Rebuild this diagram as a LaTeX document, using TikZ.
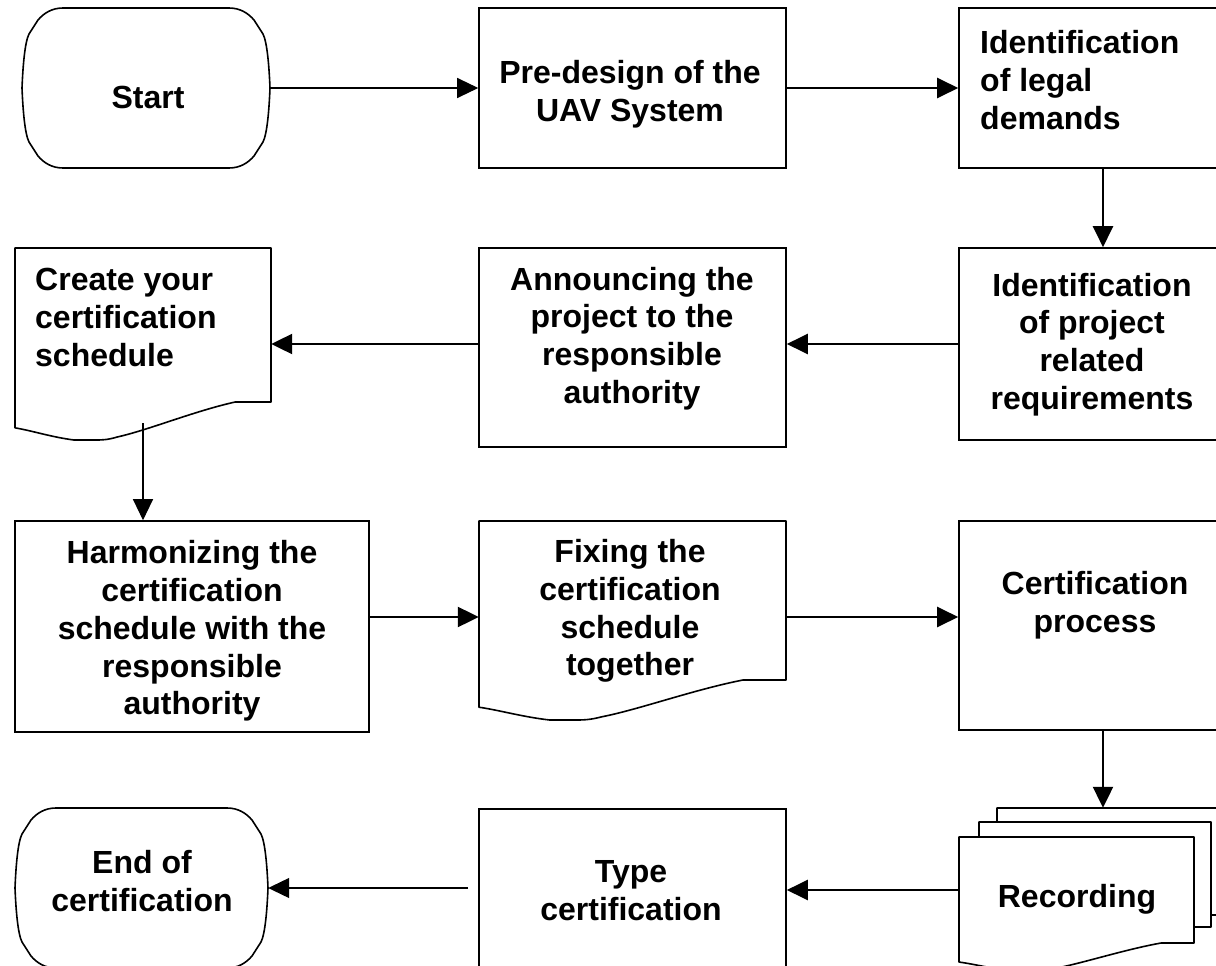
\documentclass[tikz,border=0pt]{standalone}
\usepackage{fontspec}
\setmainfont{Liberation Sans}
\usetikzlibrary{arrows.meta}
\tikzset{
  box/.style={draw, line width=1.6pt, inner sep=0pt},
  region/.style={draw=none, inner sep=0pt},
  txt/.style={font=\bfseries\fontsize{32}{37.75}\selectfont, align=center, inner sep=0pt},
  outl/.style={line width=1.6pt, line join=round},
  arr/.style={line width=2.2pt, -{Triangle[length=21pt,width=20pt]}},
  arrthin/.style={line width=1.2pt, -{Triangle[length=21pt,width=20pt]}},
}
% terminator outline: x, y (top-left), width ; height 160
\newcommand\termshape[3]{%
  \begin{scope}[shift={(#1,#2)}]
    \draw[outl] (41,0) -- ({#3-41},0)
      .. controls ({#3-30},0) and ({#3-22},5) .. ({#3-16},12)
      -- ({#3-7},26)
      .. controls ({#3-3},34) and ({#3-1},56) .. ({#3},80)
      .. controls ({#3-1},104) and ({#3-3},126) .. ({#3-7},134)
      -- ({#3-16},148)
      .. controls ({#3-22},155) and ({#3-30},160) .. ({#3-41},160)
      -- (41,160)
      .. controls (30,160) and (22,155) .. (16,148)
      -- (7,134)
      .. controls (3,126) and (1,104) .. (0,80)
      .. controls (1,56) and (3,34) .. (7,26)
      -- (16,12)
      .. controls (22,5) and (30,0) .. (41,0) -- cycle;
  \end{scope}}
% document outline: x, y (top-left), width, right-side height, wave amplitude
\newcommand\docshape[5]{%
  \begin{scope}[shift={(#1,#2)}]
    \draw[outl, fill=white] (0,0) -- (#3,0) -- (#3,#4) -- ({0.86*#3},#4)
      .. controls ({0.7*#3},{#4+0.24*#5}) and ({0.52*#3},{#4+0.74*#5}) .. ({0.4*#3},{#4+0.92*#5})
      .. controls ({0.36*#3},{#4+#5}) and ({0.34*#3},{#4+#5}) .. ({0.31*#3},{#4+#5})
      -- ({0.23*#3},{#4+#5})
      .. controls ({0.14*#3},{#4+0.92*#5}) and ({0.07*#3},{#4+0.76*#5}) .. (0,{#4+0.68*#5})
      -- cycle;
  \end{scope}}
\begin{document}
\begin{tikzpicture}[x=1pt,y=-1pt]
\useasboundingbox (0,0) rectangle (1216,966);
\clip (0,0) rectangle (1216,966);
\fill[white] (0,0) rectangle (1216,966);

% shapes
\node[region, minimum width=248pt, minimum height=160pt] (start) at (146,88) {};
\node[box, minimum width=307pt, minimum height=160pt] (pre) at (632.5,88) {};
\node[box, minimum width=288pt, minimum height=160pt] (legal) at (1103,88) {};
\node[box, minimum width=288pt, minimum height=192pt] (req) at (1103,344) {};
\node[box, minimum width=307pt, minimum height=199pt] (ann) at (632.5,347.5) {};
\node[region, minimum width=256pt, minimum height=154pt] (create) at (143,325) {};
\node[box, minimum width=354pt, minimum height=211pt] (harm) at (192,626.5) {};
\node[region, minimum width=307pt, minimum height=159pt] (fix) at (632.5,600.5) {};
\node[box, minimum width=288pt, minimum height=209pt] (cert) at (1103,625.5) {};
\node[region, minimum width=233pt, minimum height=107pt] (recback) at (1113.5,861.5) {};
\node[region, minimum width=235pt, minimum height=106pt] (rec) at (1076.5,890) {};
\node[box, minimum width=307pt, minimum height=162pt] (type) at (632.5,890) {};
\node[region, minimum width=253pt, minimum height=160pt] (end) at (141.5,888) {};

\termshape{22}{8}{248}
\termshape{15}{808}{253}
\docshape{15}{248}{256}{154}{38}
\docshape{479}{521}{307}{159}{40}
\docshape{997}{808}{233}{107}{28}
\docshape{979}{822}{232}{105}{28}
\docshape{959}{837}{235}{106}{28}

% texts
\node[txt] (startT) at (148,97.5) {Start};
\node[txt] (preT) at (630,94) {Pre-design of the\\UAV System};
\node[txt, anchor=west, align=left] (legalT) at (980,80) {Identification\\of legal\\demands};
\node[txt] (reqT) at (1092,344.5) {Identification\\of project\\related\\requirements};
\node[txt] (annT) at (632,338.5) {Announcing the\\project to the\\responsible\\authority};
\node[txt, anchor=west, align=left] (createT) at (35,317.5) {Create your\\certification\\schedule};
\node[txt] (harmT) at (192,631) {Harmonizing the\\certification\\schedule with the\\responsible\\authority};
\node[txt] (fixT) at (630,611) {Fixing the\\certification\\schedule\\together};
\node[txt] (certT) at (1095,605) {Certification\\process};
\node[txt] (recT) at (1077,899) {Recording};
\node[txt] (typeT) at (631,891) {Type\\certification};
\node[txt] (endT) at (142,881) {End of\\certification};

% connectors
\draw[arrthin] (start.east) -- (pre.west);
\draw[arr] (pre.east) -- (legal.west);
\draw[arr] (legal.south) -- (req.north);
\draw[arr] (req.west) -- (req.west -| ann.east);
\draw[arr] (req.west -| ann.west) -- (req.west -| create.east);
\draw[arrthin] ([yshift=-21pt]create.south) -- (create.south |- harm.north);
\draw[arr] ([yshift=9.5pt]harm.east) -- ([yshift=9.5pt]harm.east -| fix.west);
\draw[arr] ([yshift=9.5pt]harm.east -| fix.east) -- ([yshift=9.5pt]harm.east -| cert.west);
\draw[arr] (cert.south) -- (cert.south |- recback.north);
\draw[arr] (rec.west) -- (type.east);
\draw[arrthin] ([xshift=-10pt]type.west |- end.east) -- (end.east);
\end{tikzpicture}
\end{document}
